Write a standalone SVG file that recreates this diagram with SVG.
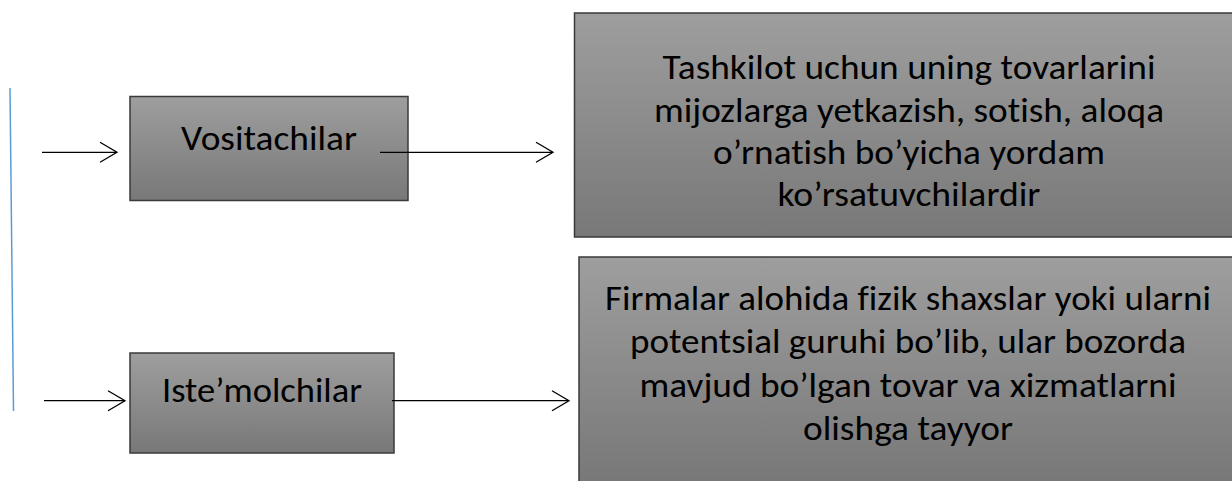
<svg xmlns="http://www.w3.org/2000/svg" width="1232" height="481" viewBox="0 0 1232 481">
<style>
.box{stroke:#3a3a3a;stroke-width:1.5}
.t{font-family:Carlito,Lato,"Open Sans",sans-serif;font-size:34px;fill:#000;text-anchor:middle;font-variant-ligatures:none}
.c{stroke:#000;stroke-width:1.3;fill:none}
</style>
<defs>
<linearGradient id="g" x1="0" y1="0" x2="0" y2="1">
<stop offset="0" stop-color="#9e9e9e"/>
<stop offset="1" stop-color="#787878"/>
</linearGradient>
</defs>
<rect width="1232" height="481" fill="#fff"/>
<g id="connectors">
<line x1="10" y1="88" x2="13.5" y2="411" stroke="#5b9bd5" stroke-width="1.5"/>
<path class="c" d="M42 152.3H117M100 142.3L117 152.3L100 162.3"/>
<path class="c" d="M44 400.7H125M108 390.7L125 400.7L108 410.7"/>
</g>
<g id="node-vositachilar">
<rect class="box" x="130" y="96.5" width="278" height="104" fill="url(#g)"/>
<text class="t" x="269" y="150" textLength="176" lengthAdjust="spacingAndGlyphs">Vositachilar</text>
</g>
<g id="node-istemolchilar">
<rect class="box" x="130" y="353" width="264" height="100" fill="url(#g)"/>
<text class="t" x="262" y="402" textLength="200" lengthAdjust="spacingAndGlyphs">Iste’molchilar</text>
</g>
<g id="connectors-out">
<path class="c" d="M380 152.3H553M536 142.3L553 152.3L536 162.3"/>
<path class="c" d="M392 400.7H569M552 390.7L569 400.7L552 410.7"/>
</g>
<g id="node-vosita-desc">
<rect class="box" x="574.5" y="13" width="680" height="224" fill="url(#g)"/>
<text class="t" x="909" y="79" textLength="493" lengthAdjust="spacingAndGlyphs">Tashkilot uchun uning tovarlarini</text>
<text class="t" x="909" y="121.5" textLength="510" lengthAdjust="spacingAndGlyphs">mijozlarga yetkazish, sotish, aloqa</text>
<text class="t" x="909" y="164" textLength="392" lengthAdjust="spacingAndGlyphs">o’rnatish bo’yicha yordam</text>
<text class="t" x="909" y="206" textLength="263" lengthAdjust="spacingAndGlyphs">ko’rsatuvchilardir</text>
</g>
<g id="node-iste-desc">
<rect class="box" x="579" y="257" width="680" height="225" fill="url(#g)"/>
<text class="t" x="908" y="310" textLength="606" lengthAdjust="spacingAndGlyphs">Firmalar alohida fizik shaxslar yoki ularni</text>
<text class="t" x="908" y="353" textLength="556" lengthAdjust="spacingAndGlyphs">potentsial guruhi bo’lib, ular bozorda</text>
<text class="t" x="908" y="397" textLength="537" lengthAdjust="spacingAndGlyphs">mavjud bo’lgan tovar va xizmatlarni</text>
<text class="t" x="908" y="440" textLength="210" lengthAdjust="spacingAndGlyphs">olishga tayyor</text>
</g>
</svg>
